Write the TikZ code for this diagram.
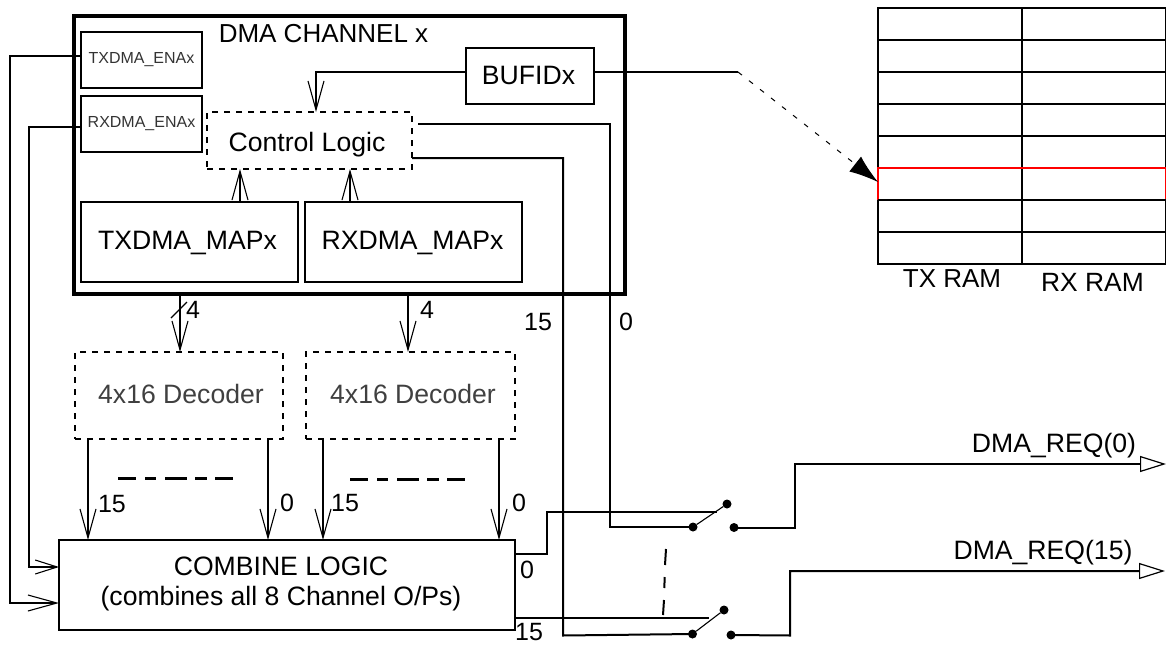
\documentclass[tikz,border=0pt]{standalone}
\usepackage{fontspec}
\setmainfont{Liberation Sans}
\usetikzlibrary{arrows.meta}
\tikzset{
  wire/.style={line width=2pt},
  boxn/.style={draw=black,line width=2pt,inner sep=0pt,outer sep=0pt,align=center},
  dashbox/.style={boxn,dash pattern=on 6pt off 6pt},
  lab/.style={inner sep=0pt,outer sep=0pt,font=\fontsize{25}{29}\selectfont},
  bigl/.style={inner sep=0pt,outer sep=0pt,align=center,font=\fontsize{26.6}{30}\selectfont},
  dotn/.style={circle,fill=black,minimum size=9pt,inner sep=0pt,outer sep=0pt},
  vee/.style={-{Straight Barb[length=29pt,width=16pt,line width=1.1pt]}},
  veeshort/.style={-{Straight Barb[length=22pt,width=14pt,line width=1.1pt]}},
  opentip/.style={-{Triangle[open,length=26pt,width=16pt,line width=1.2pt,fill=white]}},
  ramline/.style={line width=2pt},
  dashrule/.style={line width=3pt,dash pattern=on 18pt off 9pt on 11pt off 9pt on 22pt off 8pt on 12pt off 8pt on 18pt off 9pt},
}
\begin{document}
\begin{tikzpicture}[x=1pt,y=-1pt]
\useasboundingbox (0,0) rectangle (1166,645);
% main boxes
\node[boxn,line width=3.6pt,minimum width=551pt,minimum height=278pt] (chan) at (349.5,155) {};
\node[bigl,font=\fontsize{26}{30}\selectfont] (chanlab) at (323.5,34) {DMA CHANNEL x};
\node[boxn,minimum width=121pt,minimum height=56pt,font=\fontsize{16}{19}\selectfont,text=black!80] (txen) at (141.5,60) {TXDMA\_ENAx};
\node[boxn,minimum width=121pt,minimum height=56pt,font=\fontsize{16}{19}\selectfont,text=black!80] (rxen) at (141.5,124) {RXDMA\_ENAx};
\node[dashbox,minimum width=205pt,minimum height=57pt] (ctrl) at (309.5,140.5) {};
\node[bigl] (ctrllab) at (307,144.5) {Control Logic};
\node[boxn,minimum width=128pt,minimum height=56pt] (bufid) at (530,76) {};
\node[bigl] (bufidlab) at (528.5,75) {BUFIDx};
\node[boxn,minimum width=217pt,minimum height=80pt] (txmap) at (189.5,242) {};
\node[bigl] (txmaplab) at (187.5,243) {TXDMA\_MAPx};
\node[boxn,minimum width=217pt,minimum height=80pt] (rxmap) at (413.5,242) {};
\node[bigl] (rxmaplab) at (412.5,243) {RXDMA\_MAPx};
\node[dashbox,minimum width=208pt,minimum height=87pt] (dec1) at (179,395.5) {};
\node[bigl,text=black!75] (dec1lab) at (181,393.5) {4x16 Decoder};
\node[dashbox,minimum width=209pt,minimum height=87pt] (dec2) at (410.5,395.5) {};
\node[bigl,text=black!75] (dec2lab) at (413,393.5) {4x16 Decoder};
\node[boxn,minimum width=456pt,minimum height=90pt] (comb) at (287,585) {};
\node[bigl] (comblab) at (281,584) {COMBINE LOGIC\\(combines all 8 Channel O/Ps)};
% RAM
\node[boxn,minimum width=287.5pt,minimum height=256pt] (ram) at (1021.75,136) {};
\foreach \yy in {40,72,104,136,168,200,232}
  \draw[ramline] (ram.west |- 0,\yy) -- (ram.east |- 0,\yy);
\draw[ramline] (1022,8) -- (1022,264);
\draw[line width=2pt,red] (ram.west |- 0,200) -- (ram.west |- 0,168) -- (ram.east |- 0,168) -- (ram.east |- 0,200);
\draw[ramline] (ram.west |- 0,200) -- (ram.east |- 0,200);
\node[bigl,font=\fontsize{26}{30}\selectfont] (txram) at (952,279) {TX RAM};
\node[bigl,font=\fontsize{26.4}{30}\selectfont] (rxram) at (1092.5,282) {RX RAM};
% enable wires
\coordinate (txcorner) at (10,56);
\coordinate (rxcorner) at (29,127);
\draw[wire,vee] (txen.west |- txcorner) -- (txcorner) -- (txcorner |- 0,603) -- (comb.west |- 0,603);
\draw[wire,veeshort] (rxen.west |- rxcorner) -- (rxcorner) -- (rxcorner |- 0,567) -- (comb.west |- 0,567);
% control logic wires
\draw[wire,vee] (bufid.west |- 0,72) -- (316,72) -- (316,0 |- ctrl.north);
\draw[wire,vee] (240,0 |- txmap.north) -- (240,0 |- ctrl.south);
\draw[wire,vee] (350,0 |- rxmap.north) -- (350,0 |- ctrl.south);
% decoders in
\draw[wire,vee] (180,0 |- chan.south) -- (180,0 |- dec1.north);
\draw[wire,vee] (408,0 |- chan.south) -- (408,0 |- dec2.north);
\draw[line width=1.1pt] (171,318) -- (187,302);
% decoder outs
\foreach \xx/\dd in {88/dec1,268/dec1,323/dec2,499/dec2}
  \draw[wire,vee] (\xx,0 |- \dd.south) -- (\xx,0 |- comb.north);
\draw[dashrule] (118,478) -- (233,478);
\draw[dashrule] (350,479) -- (465,479);
% switches
\node[dotn] (p0) at (693,527) {};
\node[dotn] (t0) at (727,504) {};
\node[dotn] (r0) at (734,527.5) {};
\node[dotn] (p15) at (692.5,634) {};
\node[dotn] (t15) at (724,610) {};
\node[dotn] (r15) at (731,635) {};
\draw[line width=1.1pt] (p0) -- (t0);
\draw[line width=1.1pt] (p15) -- (t15);
\coordinate (bufend) at (738,72);
\draw[wire] (bufid.east |- bufend) -- (bufend);
\draw[line width=1pt,dash pattern=on 5pt off 9pt,-{Latex[length=29pt,width=19pt]}] (bufend) -- (ram.west |- 0,182);
\draw[wire] (418,124) -- (610,124) -- (610,527) -- (p0.center);
\draw[wire] (ctrl.east |- 0,158) -- (563,158) -- (563,635.5) -- (p15.center);
\draw[wire] (comb.east |- 0,554) -- (547,554) -- (547,512) -- (717,512);
\draw[wire] (comb.east |- 0,617.5) -- (709,617.5);
\draw[wire] (666,549) -- (665,565);
\draw[wire] (664.7,577) -- (664.3,588);
\draw[wire] (664,600) -- (663,615);
\draw[wire,opentip] (r0.center) -- (795,527.5) -- (795,464) -- (1166,464);
\draw[wire,opentip] (r15.center) -- (790,635.5) -- (790,571) -- (1165,571);
% labels
\node[lab] (l4a) at (193,310) {4};
\node[lab] (l4b) at (427,310) {4};
\node[lab] (l15a) at (538,322) {15};
\node[lab] (l0a) at (626,322) {0};
\node[lab] (l15b) at (112,504) {15};
\node[lab] (l0b) at (287,503) {0};
\node[lab] (l15c) at (345,503) {15};
\node[lab] (l0c) at (519,503) {0};
\node[lab] (l0d) at (527,570) {0};
\node[lab] (l15d) at (529,632) {15};
\node[bigl] (req0) at (1054,445.5) {DMA\_REQ(0)};
\node[bigl] (req15) at (1043,553) {DMA\_REQ(15)};
\end{tikzpicture}
\end{document}
